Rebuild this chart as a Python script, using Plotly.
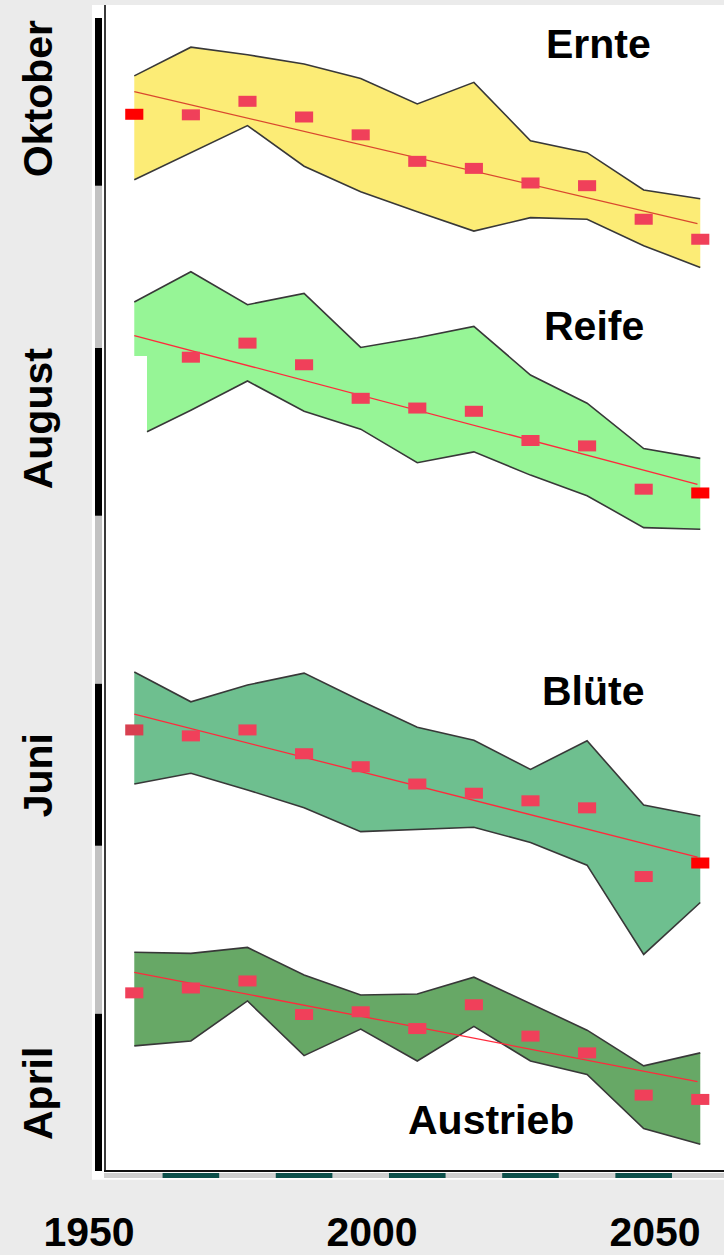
import plotly.graph_objects as go

# ---------------- data (day of year on y, year on x) ----------------
years = [1958, 1968, 1978, 1988, 1998, 2008, 2018, 2028, 2038, 2048, 2058]

ernte_upper = [294.3, 299.6, 298.2, 296.5, 293.8, 289.1, 293.1, 282.3, 280.1, 273.2, 271.6]
ernte_lower = [275.1, 280.1, 285.1, 277.6, 272.9, 269.2, 265.6, 268.1, 267.8, 262.9, 258.9]
ernte_mean = [287.2, 287.1, 289.6, 286.7, 283.4, 278.5, 277.2, 274.5, 274.0, 267.8, 264.1]
ernte_trend = [291.4, 267.0]

reife_upper = [252.5, 258.1, 252.0, 254.1, 244.1, 245.9, 248.0, 239.0, 233.8, 225.4, 223.6]
reife_lower_years = [1960.25, 1968, 1978, 1988, 1998, 2008, 2018, 2028, 2038, 2048, 2058]
reife_lower = [228.5, 232.5, 237.9, 232.3, 229.0, 222.8, 224.8, 220.5, 216.7, 210.8, 210.5]
reife_notch = 242.5
reife_mean_years = [1968, 1978, 1988, 1998, 2008, 2018, 2028, 2038, 2048, 2058]
reife_mean = [242.3, 244.9, 240.9, 234.7, 232.9, 232.3, 226.9, 225.9, 217.9, 217.2]
reife_trend = [246.3, 218.8]

bluete_upper = [184.1, 178.6, 181.7, 183.9, 178.8, 173.9, 171.5, 166.1, 171.4, 159.5, 157.5]
bluete_lower = [163.4, 165.4, 162.3, 159.0, 154.6, 155.0, 155.4, 152.6, 148.4, 131.9, 141.5]
bluete_mean = [173.4, 172.3, 173.4, 169.0, 166.6, 163.4, 161.7, 160.3, 159.0, 146.3, 148.8]
bluete_trend = [176.3, 149.9]

austrieb_upper = [132.3, 132.1, 133.2, 128.1, 124.4, 124.6, 127.7, 122.8, 117.9, 111.3, 113.7]
austrieb_lower = [115.0, 115.9, 123.3, 113.2, 118.1, 112.2, 118.6, 112.2, 109.7, 99.7, 96.8]
austrieb_mean = [124.8, 125.7, 127.0, 120.8, 121.3, 118.2, 122.6, 116.8, 113.7, 105.9, 105.1]
austrieb_trend = [128.6, 108.4]

stage_names = ["Ernte", "Reife", "Blüte", "Austrieb"]

month_labels = ["Oktober", "August", "Juni", "April"]
month_label_doy = [290.0, 231.0, 165.0, 106.1]
month_starts = [91, 121, 152, 182, 213, 244, 274, 305]   # Apr 1 ... Nov 1

year_ticks = [1950, 2000, 2050]
year_labels = ["1950", "2000", "2050"]

# ---------------- style ----------------
W, H = 724, 1255
ML, MR, MT, MB = 80, 0, 5, 65
PW, PH = W - ML - MR, H - MT - MB
XR = [1948.41, 2062.19]
YR = [91.87, 307.4]
FONT = "Liberation Sans, Arial, sans-serif"


def pxx(px):
    return (px - ML) / PW


def pxy(py):
    return (H - MB - py) / PH


fills = {"Ernte": "#fcec76", "Reife": "#96f596", "Blüte": "#6ebf8f", "Austrieb": "#67a866"}
trend_colors = {"Ernte": "#d9482e", "Reife": "#ff2a3c", "Blüte": "#ff2a3c", "Austrieb": "#ff2a3c"}
MARK = "#f0405a"
SPECIAL = {"Ernte": {0: "#ff0000"}, "Reife": {9: "#ff0000"}, "Blüte": {0: "#d84050", 10: "#ff0000"},
           "Austrieb": {}}

fig = go.Figure()


def add_stage(name, up_x, up, lo_x, lo, mx, my, trend, notch=None):
    px_ = list(up_x) + list(reversed(lo_x))
    py_ = list(up) + list(reversed(lo))
    if notch is not None:
        px_ += [lo_x[0], up_x[0]]
        py_ += [notch, notch]
    fig.add_trace(go.Scatter(x=px_, y=py_, fill="toself", fillcolor=fills[name],
                             mode="lines", line=dict(width=0), hoverinfo="skip"))
    for xs, ys in ((up_x, up), (lo_x, lo)):
        fig.add_trace(go.Scatter(x=xs, y=ys, mode="lines",
                                 line=dict(color="#383838", width=1.6), hoverinfo="skip"))
    fig.add_trace(go.Scatter(x=[years[0], years[-1] - 0.5], y=trend, mode="lines",
                             line=dict(color=trend_colors[name], width=1.3), hoverinfo="skip"))
    groups = {}
    for i, (xv, yv) in enumerate(zip(mx, my)):
        c = SPECIAL[name].get(i, MARK)
        groups.setdefault(c, ([], []))
        groups[c][0].append(xv)
        groups[c][1].append(yv)
    for c, (gx, gy) in groups.items():
        fig.add_trace(go.Scatter(x=gx, y=gy, mode="markers",
                                 marker=dict(size=1, color="rgba(0,0,0,0)"),
                                 error_x=dict(type="constant", value=1.6, thickness=11,
                                              width=0, color=c),
                                 hoverinfo="skip"))


add_stage("Ernte", years, ernte_upper, years, ernte_lower, years, ernte_mean, ernte_trend)
add_stage("Reife", years, reife_upper, reife_lower_years, reife_lower,
          reife_mean_years, reife_mean, reife_trend, notch=reife_notch)
add_stage("Blüte", years, bluete_upper, years, bluete_lower, years, bluete_mean, bluete_trend)
add_stage("Austrieb", years, austrieb_upper, years, austrieb_lower, years, austrieb_mean,
          austrieb_trend)

shapes = []
# white panel
shapes.append(dict(type="rect", xref="paper", yref="paper", x0=pxx(92), x1=1.0,
                   y0=pxy(1199), y1=1.0, fillcolor="white", line=dict(width=0), layer="below"))
# month band on the left
for i in range(len(month_starts) - 1):
    shapes.append(dict(type="rect", xref="paper", yref="y", x0=pxx(95), x1=pxx(102),
                       y0=max(month_starts[i], YR[0]), y1=min(month_starts[i + 1], YR[1]),
                       fillcolor="#000000" if i % 2 == 0 else "#c2c2c2",
                       line=dict(width=0), layer="above"))
# frame lines
shapes.append(dict(type="line", xref="paper", yref="paper", x0=pxx(105), x1=pxx(105),
                   y0=0, y1=1, line=dict(color="#3a3a3a", width=2)))
shapes.append(dict(type="line", xref="paper", yref="paper", x0=pxx(104), x1=1,
                   y0=0, y1=0, line=dict(color="#111111", width=2)))
shapes.append(dict(type="rect", xref="paper", yref="paper", x0=pxx(104), x1=1,
                   y0=pxy(1197), y1=pxy(1192), fillcolor="#cfcfcf", line=dict(width=0)))
for c in years[1::2]:
    shapes.append(dict(type="rect", xref="x", yref="paper", x0=c - 5, x1=c + 5,
                       y0=pxy(1197), y1=pxy(1192), fillcolor="#0b4f4a", line=dict(width=0)))

annotations = []
for lab, d in zip(month_labels, month_label_doy):
    annotations.append(dict(text=lab, xref="paper", yref="y", x=pxx(38), y=d,
                            xanchor="center", yanchor="middle", textangle=-90, showarrow=False,
                            font=dict(family=FONT, size=41, color="black", weight="bold")))
stage_pos = {"Ernte": (2040.1, 300.2), "Reife": (2039.2, 248.1),
             "Blüte": (2039.2, 180.6), "Austrieb": (2021.0, 101.3)}
for name in stage_names:
    x, y = stage_pos[name]
    annotations.append(dict(text=name, xref="x", yref="y", x=x, y=y, xanchor="center",
                            yanchor="middle", showarrow=False,
                            font=dict(family=FONT, size=41, color="black", weight="bold")))

fig.update_layout(
    width=W, height=H, margin=dict(l=ML, r=MR, t=MT, b=MB),
    paper_bgcolor="#ebebeb", plot_bgcolor="#ebebeb", showlegend=False,
    shapes=shapes, annotations=annotations,
    xaxis=dict(range=XR, showgrid=False, zeroline=False, showline=False,
               tickvals=year_ticks, ticktext=year_labels, ticks="outside", ticklen=25,
               tickcolor="rgba(0,0,0,0)",
               tickfont=dict(family=FONT, size=41, color="black", weight="bold")),
    yaxis=dict(range=YR, showgrid=False, zeroline=False, showline=False,
               showticklabels=False, ticks=""),
)

fig.write_html("out.html", config={"displayModeBar": False},
               post_script="document.body.style.margin='0';document.body.style.overflow='hidden';")
